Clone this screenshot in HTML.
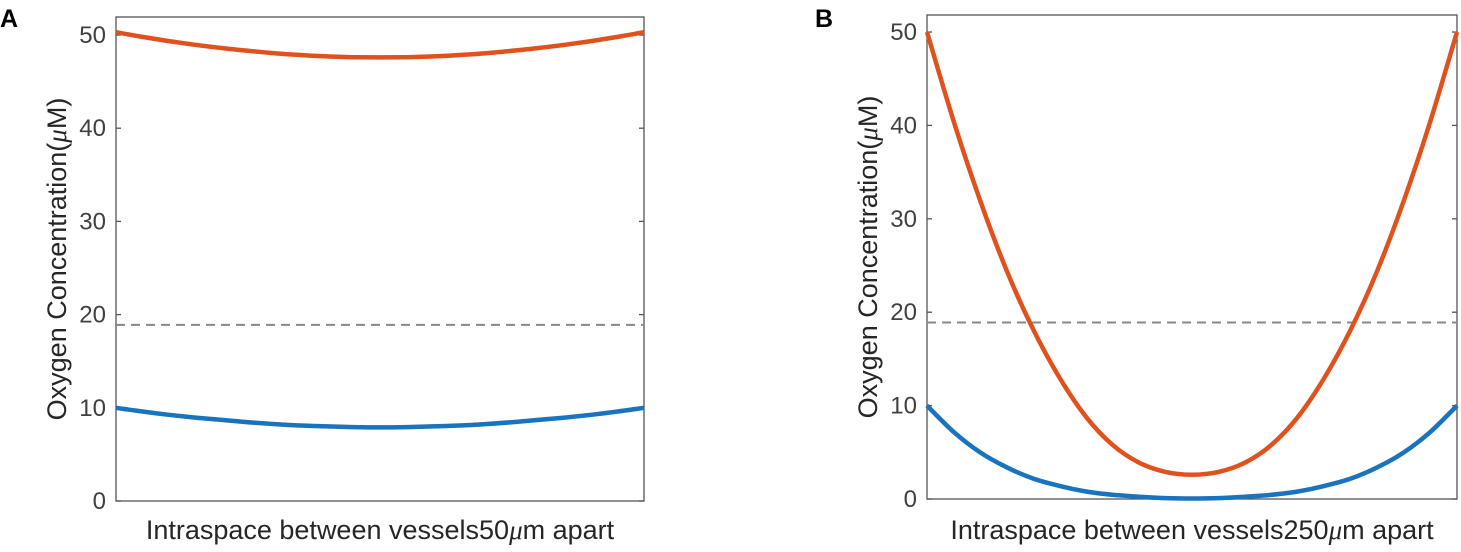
<!DOCTYPE html>
<html><head><meta charset="utf-8"><style>
body{margin:0;background:#fff;}
svg text{font-family:"Liberation Sans",sans-serif;}
</style></head><body>
<svg id="chart" width="1461" height="547" viewBox="0 0 1461 547"></svg>
<script>
const xFrac=[0,0.05,0.1,0.15,0.2,0.25,0.3,0.35,0.4,0.45,0.5,0.55,0.6,0.65,0.7,0.75,0.8,0.85,0.9,0.95,1];
const aRed=[50.3,49.8,49.35,48.95,48.6,48.3,48.05,47.85,47.7,47.62,47.6,47.62,47.7,47.85,48.05,48.3,48.6,48.95,49.35,49.8,50.3];
const aBlue=[10.0,9.6,9.25,8.95,8.7,8.45,8.25,8.1,8.0,7.93,7.9,7.93,8.0,8.1,8.25,8.45,8.7,8.95,9.25,9.6,10.0];
const bRed=[50,40.5,32,24.5,18.2,13,8.8,5.8,3.9,2.9,2.6,2.9,3.9,5.8,8.8,13,18.2,24.5,32,40.5,50];
const bBlue=[10,7.2,5.0,3.4,2.2,1.4,0.8,0.45,0.25,0.1,0.05,0.1,0.25,0.45,0.8,1.4,2.2,3.4,5.0,7.2,10];
const threshold=18.9;
const yTicks=[0,10,20,30,40,50];
const NS="http://www.w3.org/2000/svg";
const svg=document.getElementById('chart');
function mk(tag,attrs,parent){const e=document.createElementNS(NS,tag);for(const k in attrs)e.setAttribute(k,attrs[k]);(parent||svg).appendChild(e);return e;}
function smooth(P){
  let d='M'+P[0][0]+','+P[0][1];
  for(let i=0;i<P.length-1;i++){
    const p0=P[i-1]||P[i],p1=P[i],p2=P[i+1],p3=P[i+2]||P[i+1];
    const c1=[p1[0]+(p2[0]-p0[0])/6,p1[1]+(p2[1]-p0[1])/6];
    const c2=[p2[0]-(p3[0]-p1[0])/6,p2[1]-(p3[1]-p1[1])/6];
    d+=` C${c1[0].toFixed(1)},${c1[1].toFixed(1)} ${c2[0].toFixed(1)},${c2[1].toFixed(1)} ${p2[0].toFixed(1)},${p2[1].toFixed(1)}`;
  }
  return d;
}
function panel(p){
  const g=mk('g',{});
  
  
  const x=f=>p.l+f*(p.r-p.l);
  const y=v=>p.y0-v*(p.y0-p.y50)/50;
  const lbl=mk('text',{x:p.labX,y:27,'font-size':25,'font-weight':'bold',fill:'#000'},g);
  lbl.textContent=p.id.toUpperCase();
  
  
  const box=mk('rect',{x:p.l,y:p.t,width:p.r-p.l,height:p.y0-p.t,fill:'none',stroke:'#555','stroke-width':1.3},g);
  
  
  yTicks.forEach(v=>{
    mk('line',{x1:p.l,x2:p.l+5,y1:y(v),y2:y(v),stroke:'#555','stroke-width':1.3},g);
    mk('line',{x1:p.r,x2:p.r-5,y1:y(v),y2:y(v),stroke:'#555','stroke-width':1.3},g);
    const t=mk('text',{x:p.l-10,y:y(v)+8,'font-size':24,fill:'#404040','text-anchor':'end'},g);
    t.textContent=v;
    
    
  });
  const dash=mk('line',{x1:p.l,x2:p.r,y1:y(threshold),y2:y(threshold),stroke:'#888','stroke-width':2,'stroke-dasharray':'9,6'},g);
  
  
  [[p.red,'#e0521d','red-curve'],[p.blue,'#1a73bd','blue-curve']].forEach(([d,c,n])=>{
    const P=d.map((v,i)=>[x(xFrac[i]),y(v)]);
    const pl=mk('path',{d:smooth(P),fill:'none',stroke:c,'stroke-width':4.5,'stroke-linejoin':'round'},g);
    
    
  });
  const yt=mk('text',{transform:`translate(${p.l-50},${(p.t+p.y0)/2}) rotate(-90)`,'font-size':27,fill:'#262626','text-anchor':'middle'},g);
  yt.innerHTML='Oxygen Concentration(<tspan font-family="Liberation Serif" font-style="italic">μ</tspan>M)';
  
  
  const xt=mk('text',{x:(p.l+p.r)/2,y:539,'font-size':27,fill:'#262626','text-anchor':'middle'},g);
  xt.innerHTML='Intraspace between vessels'+p.dist+'<tspan font-family="Liberation Serif" font-style="italic">μ</tspan>m apart';
  
  
}
panel({id:'a',labX:0,l:116,r:644,t:17,y0:501,y50:35,red:aRed,blue:aBlue,dist:'50'});
panel({id:'b',labX:815,l:927,r:1457,t:15,y0:499,y50:32,red:bRed,blue:bBlue,dist:'250'});
</script>
</body></html>
